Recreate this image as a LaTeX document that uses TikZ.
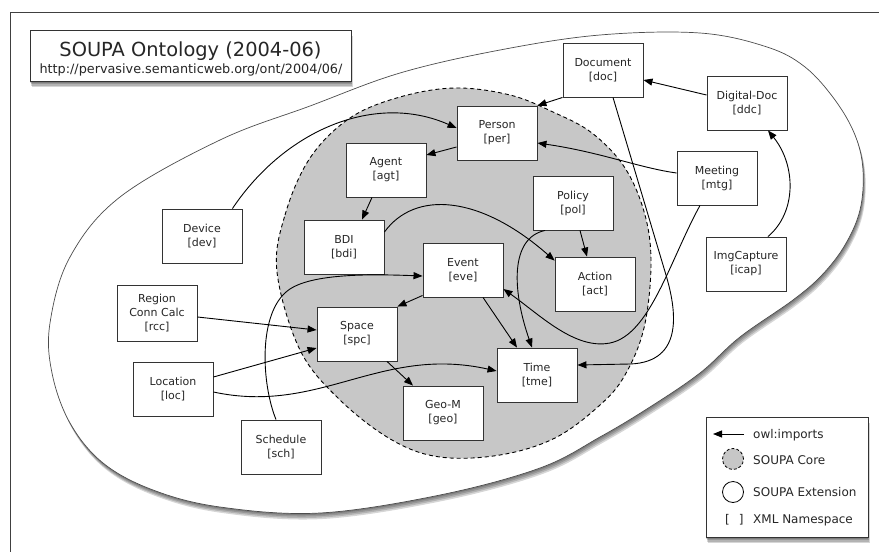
\documentclass[tikz,border=0pt]{standalone}
\usepackage{fontspec}
\setmainfont{DejaVu Sans}
\usetikzlibrary{arrows.meta,calc}
\begin{document}
\begin{tikzpicture}[x=1pt,y=-1pt,
  box/.style={draw=black!80, line width=0.9pt, fill=white, minimum width=80pt, minimum height=54pt,
    align=center, inner sep=1pt, text=black!85, font=\fontsize{11}{14}\selectfont},
  imp/.style={draw=black, line width=0.9pt, -{Triangle[length=9pt,width=7pt]}},
  legtext/.style={anchor=base west, inner sep=0pt, text=black!85, font=\fontsize{12}{14}\selectfont},
  shadowfill/.style={fill=black, opacity=0.16},
]
\useasboundingbox (0,0) rectangle (879,552);
\fill[white] (0,0) rectangle (879,552);
\draw[black!75, line width=0.8pt] (10,552) -- (10,12) -- (879,12);

% outer (SOUPA extension) shadow and shape
\foreach \s in {1.5,3,4.5,6}
  \fill[shadowfill, shift={(\s*0.4,\s)}] plot[smooth cycle, tension=0.6] coordinates {
   (52,373) (50,323) (70,257) (120,197) (220,140) (310,106) (400,73) (500,50) (600,35)
   (700,33) (767,47) (805,67) (835,100) (855,135) (863,170) (860,210) (845,245) (822,275)
   (793,300) (740,337) (700,373) (650,407) (600,437) (540,468) (440,495) (320,513)
   (220,507) (153,490) (103,463) (70,423)};
\draw[black!70, line width=0.7pt, fill=white] plot[smooth cycle, tension=0.6] coordinates {
   (52,373) (50,323) (70,257) (120,197) (220,140) (310,106) (400,73) (500,50) (600,35)
   (700,33) (767,47) (805,67) (835,100) (855,135) (863,170) (860,210) (845,245) (822,275)
   (793,300) (740,337) (700,373) (650,407) (600,437) (540,468) (440,495) (320,513)
   (220,507) (153,490) (103,463) (70,423)};

% inner (SOUPA core)
\draw[black, line width=0.9pt, dash pattern=on 4pt off 3pt, fill=black!22] plot[smooth cycle, tension=0.6] coordinates {
   (277,272) (285,215) (310,158) (350,118) (400,97) (455,88) (510,95) (553,112) (592,133)
   (625,168) (645,215) (651,265) (644,328) (625,375) (600,405) (555,438) (500,455)
   (440,457) (392,440) (340,400) (300,350)};

% title box
\foreach \s in {1.5,3,4.5,6}
  \fill[shadowfill] (30+\s*0.3,30+\s) rectangle (351+\s*0.3,81+\s);
\node (title) [draw=black!80, line width=1pt, fill=white, minimum width=321pt, minimum height=51pt, inner sep=0pt] at (190.5,55.5) {};
\node (ttl) [inner sep=0pt, anchor=base, text=black!85, font=\fontsize{19.4}{22}\selectfont] at (190.5,56) {SOUPA Ontology (2004-06)};
\node (url) [inner sep=0pt, anchor=base, text=black!85, font=\fontsize{12.8}{14}\selectfont] at (191,73) {http://pervasive.semanticweb.org/ont/2004/06/};

% legend box
\foreach \s in {1.5,3,4.5,6}
  \fill[shadowfill] (706+\s*0.3,417+\s) rectangle (868+\s*0.3,537+\s);
\node (legbox) [draw=black!80, line width=1pt, fill=white, minimum width=162pt, minimum height=120pt, inner sep=0pt] at (787,477) {};
\coordinate (la1) at (744,434);
\coordinate (la2) at (713,434);
\draw[imp] (la1) -- (la2);
\node (l1) [legtext] at (753,438.5) {owl:imports};
\node (lcore) [circle, draw=black, line width=0.8pt, dash pattern=on 3pt off 2pt, fill=black!22, minimum size=21pt, inner sep=0pt] at (733,459) {};
\node (l2) [legtext] at (753,464) {SOUPA Core};
\node (lext) [circle, draw=black, line width=0.8pt, minimum size=21pt, inner sep=0pt] at (733,492) {};
\node (l3) [legtext] at (753,496.5) {SOUPA Extension};
\node (lns) [legtext] at (725,523) {[\hspace{9pt}]};
\node (l4) [legtext] at (753,523) {XML Namespace};

% ontology nodes
\node (doc)  [box] at (603,70)  {Document\\{[doc]}};
\node (ddc)  [box] at (747,103) {Digital-Doc\\{[ddc]}};
\node (per)  [box] at (497,133) {Person\\{[per]}};
\node (mtg)  [box] at (717,178) {Meeting\\{[mtg]}};
\node (pol)  [box] at (573,203) {Policy\\{[pol]}};
\node (icap) [box] at (746,264) {ImgCapture\\{[icap]}};
\node (act)  [box] at (595,284) {Action\\{[act]}};
\node (eve)  [box] at (463,270) {Event\\{[eve]}};
\node (agt)  [box] at (386,170) {Agent\\{[agt]}};
\node (bdi)  [box] at (344,247) {BDI\\{[bdi]}};
\node (dev)  [box] at (202,236) {Device\\{[dev]}};
\node (spc)  [box] at (357,334) {Space\\{[spc]}};
\node (tme)  [box] at (537,375) {Time\\{[tme]}};
\node (geo)  [box] at (443,413) {Geo-M\\{[geo]}};
\node (rcc)  [box, minimum height=56pt] at (157,313) {Region\\Conn Calc\\{[rcc]}};
\node (loc)  [box] at (173,389) {Location\\{[loc]}};
\node (sch)  [box] at (281,447) {Schedule\\{[sch]}};

% imports
\draw[imp] (doc.south west) -- (per.north east);
\draw[imp] ($(ddc.west)+(0,-8)$) -- ($(doc.east)+(0,10)$);
\draw[imp] ($(mtg.west)+(0,-5)$) .. controls (640,168) and (600,152) .. ($(per.east)+(0,10)$);
\draw[imp] ($(icap.north)+(22,0)$) .. controls (797,212) and (796,165) .. ($(ddc.south)+(21,0)$);
\draw[imp] ($(dev.north east)+(-10,0)$) .. controls (285,130) and (375,92) .. ($(per.west)+(0,-5)$);
\draw[imp] ($(per.west)+(0,14)$) -- ($(agt.east)+(0,-15)$);
\draw[imp] ($(agt.south)+(-14,0)$) -- ($(bdi.north)+(18,0)$);
\draw[imp] ($(bdi.east)+(0,-15)$) .. controls (415,190) and (480,195) .. ($(act.north west)+(0,4)$);
\draw[imp] ($(pol.south)+(7,0)$) -- ($(act.north)+(-8,0)$);
\draw[imp] ($(pol.south)+(-28,0)$) .. controls (510,238) and (512,290) .. ($(tme.north)+(-5,0)$);
\draw[imp] ($(eve.south)+(20,0)$) -- ($(tme.north)+(-20,0)$);
\draw[imp] ($(eve.south west)+(0,-2)$) -- (spc.north east);
\draw[imp] ($(sch.north)+(-5,0)$) .. controls (262,385) and (258,318) .. (285,293)
   .. controls (305,273) and (370,274) .. ($(eve.west)+(0,6)$);
\draw[imp] ($(rcc.east)+(0,4)$) -- ($(spc.west)+(0,-4)$);
\draw[imp] ($(loc.east)+(0,-12)$) -- ($(spc.west)+(0,14)$);
\draw[imp] ($(loc.east)+(0,3)$) .. controls (320,415) and (380,345) .. ($(tme.west)+(0,-4)$);
\draw[imp] ($(spc.south)+(30,0)$) -- ($(geo.north)+(-30,0)$);
\draw[imp] ($(mtg.south)+(-17,0)$) .. controls (670,260) and (650,335) .. (610,343)
   .. controls (575,350) and (540,315) .. ($(eve.east)+(0,19)$);
\draw[imp] ($(doc.south)+(10,0)$) -- (666,275) .. controls (676,309) and (685,362) .. (630,364)
   -- ($(tme.east)+(0,-10)$);
\end{tikzpicture}
\end{document}
